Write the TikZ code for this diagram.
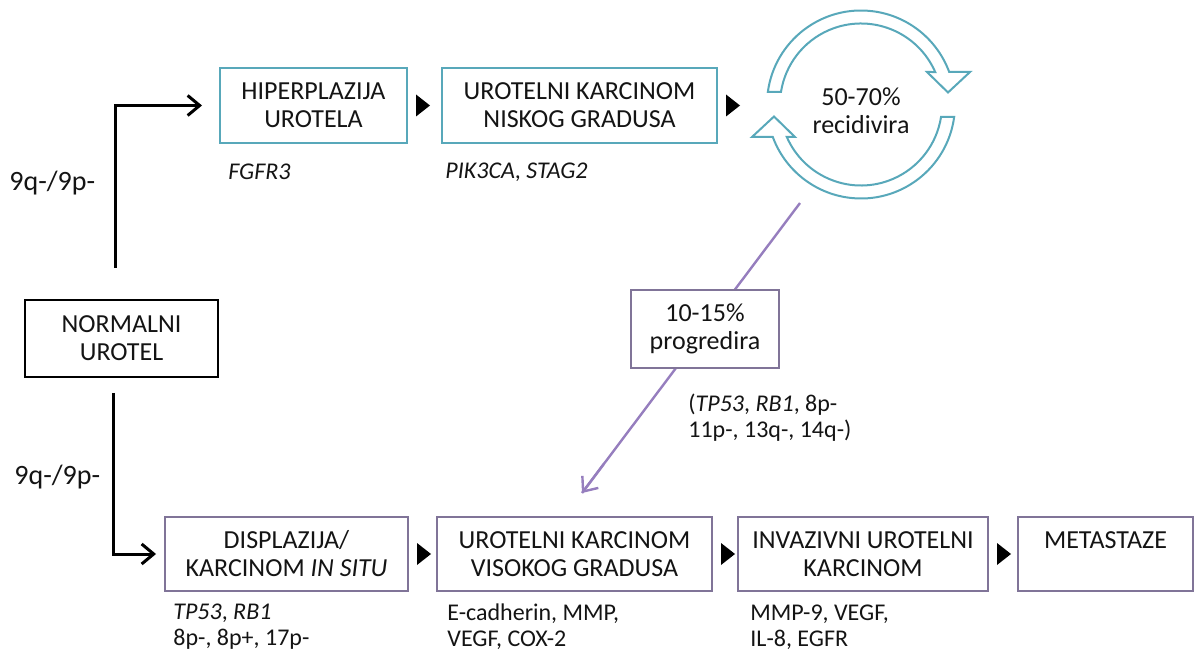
\documentclass[tikz,border=0pt]{standalone}
\usepackage{fontspec}
\setmainfont{Carlito}
\usetikzlibrary{arrows.meta,calc}
\newdimen\px \px=0.5pt
\definecolor{tealb}{RGB}{88,168,186}
\definecolor{purpb}{RGB}{128,116,152}
\definecolor{purpl}{RGB}{150,126,190}
\definecolor{txt}{RGB}{20,20,20}
\begin{document}
\begin{tikzpicture}[x=0.5pt,y=-0.5pt,
  box/.style={draw, line width=1pt, fill=white, align=center, inner sep=0pt,
    text=txt, font=\fontsize{13}{14}\selectfont},
  tbox/.style={box, draw=tealb},
  pbox/.style={box, draw=purpb},
  kbox/.style={box, draw=black},
  small/.style={text=txt, inner sep=0pt, anchor=west, align=left,
    font=\fontsize{12}{13}\selectfont},
  chrom/.style={text=txt, inner sep=0pt, anchor=west,
    font=\fontsize{14}{15}\selectfont},
  karrow/.style={line width=1.5pt, -{Straight Barb[length=6pt,width=10pt,line width=1.5pt]}},
  parrow/.style={line width=1.2pt, purpl, -{Straight Barb[length=6pt,width=10pt,line width=1.2pt]}},
  tri/.style={fill=black},
  recyc/.style={draw=tealb, fill=white, line width=1pt}
]
\useasboundingbox (0,0) rectangle (1199,662);

% recycle arrows
\begin{scope}[shift={(861,104.5)}, x=0.5pt, y=0.5pt]
  \path[recyc] (172.36:94) arc[start angle=172.36, end angle=20.23, radius=47pt]
    -- (109,32.5) -- (87,12) -- (66,32.5) -- (23.65:81)
    arc[start angle=23.65, end angle=171.12, radius=40.5pt] -- cycle;
  \begin{scope}[rotate=180]
  \path[recyc] (172.36:94) arc[start angle=172.36, end angle=20.23, radius=47pt]
    -- (109,32.5) -- (87,12) -- (66,32.5) -- (23.65:81)
    arc[start angle=23.65, end angle=171.12, radius=40.5pt] -- cycle;
  \end{scope}
\end{scope}
\node[text=txt, align=center, inner sep=0pt, font=\fontsize{13}{14}\selectfont] (rec) at (861,111) {50-70\%\\recidivira};

% progression line
\coordinate (pstart) at (800,203);
\coordinate (pend) at (582,493);
\draw[line width=1.2pt, purpl] (pstart) -- (pend);
\draw[parrow] ($(pend)!0.1!(pstart)$) -- (pend);

% boxes
\node[tbox, minimum width=187\px, minimum height=75\px] (hip) at (313.5,105.5) {HIPERPLAZIJA\\UROTELA};
\node[tbox, minimum width=275\px, minimum height=75\px] (nisk) at (579.5,105.5) {UROTELNI KARCINOM\\NISKOG GRADUSA};
\node[kbox, minimum width=193\px, minimum height=77\px] (norm) at (121.5,338.5) {NORMALNI\\UROTEL};
\node[pbox, minimum width=148\px, minimum height=78\px] (prog) at (705,329) {10-15\%\\progredira};
\node[pbox, minimum width=243\px, minimum height=74\px] (disp) at (286.5,554) {DISPLAZIJA/\\KARCINOM \textit{IN SITU}};
\node[pbox, minimum width=275\px, minimum height=74\px] (vis) at (574.5,554) {UROTELNI KARCINOM\\VISOKOG GRADUSA};
\node[pbox, minimum width=250\px, minimum height=74\px] (inv) at (863,554) {INVAZIVNI UROTELNI\\KARCINOM};
\node[pbox, minimum width=175\px, minimum height=74\px] (met) at (1105.5,554) {METASTAZE\\\phantom{M}};

% triangles
\foreach \b in {hip,nisk,disp,vis,inv}{
  \fill[tri] ($(\b.east)+(8,-11)$) -- ++(14,11) -- ++(-14,11) -- cycle;
}

% black arrows
\coordinate (up0) at (115,268);
\coordinate (dn0) at (113,393);
\draw[karrow, shorten >=17\px] (up0) |- (hip.west);
\draw[karrow, shorten >=8\px] (dn0) |- (disp.west);

% labels
\node[chrom] (c1) at (9,183) {9q-/9p-};
\node[chrom] (c2) at (14,477) {9q-/9p-};
\node[small] (l1) at (228,172) {\textit{FGFR3}};
\node[small] (l2) at (445,172) {\textit{PIK3CA}, \textit{STAG2}};
\node[small] (l3) at (688,418) {(\textit{TP53}, \textit{RB1}, 8p-\\11p-, 13q-, 14q-)};
\node[small] (l4) at (173,627) {\textit{TP53}, \textit{RB1}\\8p-, 8p+, 17p-};
\node[small] (l5) at (447,627) {E-cadherin, MMP,\\VEGF, COX-2};
\node[small] (l6) at (750,627) {MMP-9, VEGF,\\IL-8, EGFR};
\end{tikzpicture}
\end{document}
